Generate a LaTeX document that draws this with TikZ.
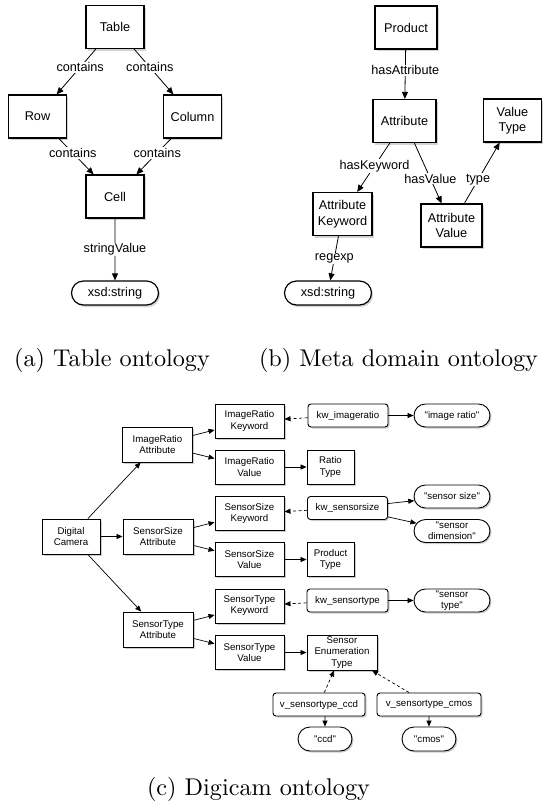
\documentclass[tikz,border=0pt]{standalone}
\usepackage{fontspec}
\newfontfamily\helv{Liberation Sans}
\usetikzlibrary{arrows.meta,shadows,shapes.misc}

\tikzset{
  >={Triangle[length=7pt,width=6pt]},
  big/.style={draw, line width=1.2pt, fill=white, minimum width=58pt, minimum height=43pt,
    inner xsep=3pt, align=center, font=\helv\fontsize{12.7}{15.5}\selectfont,
    drop shadow={opacity=0.35, shadow xshift=1.5pt, shadow yshift=-2pt}},
  bigpill/.style={big, rounded rectangle, minimum width=93pt, minimum height=24pt},
  lbl/.style={fill=white, inner sep=1pt, font=\helv\fontsize{12.7}{15}\selectfont},
  small/.style={draw, line width=0.9pt, fill=white, minimum width=69pt, minimum height=34pt,
    inner xsep=2pt, inner ysep=1pt, align=center, font=\helv\fontsize{9.7}{11.2}\selectfont,
    drop shadow={opacity=0.4, shadow xshift=1.5pt, shadow yshift=-1.5pt}},
  kwbox/.style={small, rounded corners=3pt, minimum width=80pt, minimum height=23pt},
  pill/.style={small, rounded rectangle, minimum width=80pt, minimum height=23pt},
  thin arrow/.style={->, line width=0.7pt, >={Triangle[length=6pt,width=5pt]}},
  dash arrow/.style={thin arrow, dash pattern=on 3pt off 2.5pt}
}

\begin{document}
\begin{tikzpicture}[x=10pt,y=-10pt]
\useasboundingbox (0,0) rectangle (54.2,80.4);

% (a) table ontology
\node[big] (table) at (11.5,2.7) {Table};
\node[big] (row) at (3.75,11.65) {Row};
\node[big] (column) at (19.25,11.65) {Column};
\node[big] (cell) at (11.5,19.65) {Cell};
\node[bigpill] (xsda) at (11.5,29.3) {xsd:string};
\draw[->, line width=0.8pt] (table) -- node[lbl, pos=0.4] {contains} (row);
\draw[->, line width=0.8pt] (table) -- node[lbl, pos=0.4] {contains} (column);
\draw[->, line width=0.8pt] (row) -- node[lbl, pos=0.4] {contains} (cell);
\draw[->, line width=0.8pt] (column) -- node[lbl, pos=0.4] {contains} (cell);
\draw[->, line width=0.8pt] (cell) -- node[lbl] {stringValue} (xsda);

% (b) meta domain ontology
\node[big, minimum width=62pt] (product) at (40.6,2.75) {Product};
\node[big, minimum width=63pt] (attr) at (40.45,12.1) {Attribute};
\node[big] (vtype) at (51.25,12.05) {Value\\Type};
\node[big, minimum width=59pt] (akw) at (34.25,21.4) {Attribute\\Keyword};
\node[big, minimum width=61pt] (aval) at (45.15,22.55) {Attribute\\Value};
\node[bigpill] (xsdb) at (32.8,29.3) {xsd:string};
\draw[->, line width=0.8pt] (product) -- node[lbl, pos=0.42] {hasAttribute} (attr);
\draw[->, line width=0.8pt] (attr) -- node[lbl, pos=0.47] {hasKeyword} (akw);
\draw[->, line width=0.8pt] (attr) -- node[lbl, pos=0.59] {hasValue} (aval);
\draw[->, line width=0.8pt] (aval) -- node[lbl, pos=0.39] {type} (vtype);
\draw[->, line width=0.8pt] (akw) -- node[lbl] {regexp} (xsdb);

\node[anchor=base] (capa) at (11.2,36.6) {\scalebox{2.42}{(a) Table ontology}};
\node[anchor=base] (capb) at (39.85,36.6) {\scalebox{2.42}{(b) Meta domain ontology}};

% (c) digicam ontology
\node[small, minimum width=58pt, minimum height=35pt] (dc) at (7.1,53.65) {Digital\\Camera};
\node[small, minimum width=70pt, minimum height=35pt] (ira) at (15.75,44.45) {ImageRatio\\Attribute};
\node[small, minimum width=70pt, minimum height=35pt] (ssa) at (15.8,53.65) {SensorSize\\Attribute};
\node[small, minimum width=70pt, minimum height=35pt] (sta) at (15.8,62.95) {SensorType\\Attribute};
\node[small] (irk) at (24.95,42.1) {ImageRatio\\Keyword};
\node[small] (irv) at (24.95,46.7) {ImageRatio\\Value};
\node[small] (ssk) at (24.95,51.35) {SensorSize\\Keyword};
\node[small] (ssv) at (24.95,55.95) {SensorSize\\Value};
\node[small] (stk) at (24.95,60.6) {SensorType\\Keyword};
\node[small] (stv) at (24.95,65.25) {SensorType\\Value};
\node[kwbox] (kwir) at (34.8,41.55) {kw\_imageratio};
\node[kwbox] (kwss) at (34.75,50.8) {kw\_sensorsize};
\node[kwbox, minimum width=81pt] (kwst) at (34.75,60.05) {kw\_sensortype};
\node[pill] (lir) at (45.2,41.55) {"image ratio"};
\node[pill] (lss) at (45.2,49.65) {"sensor size"};
\node[pill, inner ysep=0pt] (lsd) at (45.2,53.1) {"sensor\\dimension"};
\node[pill, inner ysep=0pt] (lst) at (45.2,60.05) {"sensor\\type"};
\node[small, minimum width=47pt] (rtype) at (33.05,46.7) {Ratio\\Type};
\node[small, minimum width=47pt] (ptype) at (33.05,55.95) {Product\\Type};
\node[small, minimum width=70pt, minimum height=35pt, inner ysep=0pt] (setype) at (34.2,65.25) {Sensor\\Enumeration\\Type};
\node[kwbox, minimum width=92pt] (vccd) at (31.9,70.45) {v\_sensortype\_ccd};
\node[kwbox, minimum width=104pt] (vcmos) at (42.9,70.45) {v\_sensortype\_cmos};
\node[pill, minimum width=58pt, minimum height=24pt] (lccd) at (32.5,73.9) {"ccd"};
\node[pill, minimum width=58pt, minimum height=24pt] (lcmos) at (42.9,73.9) {"cmos"};

\draw[thin arrow] (dc) -- (ira);
\draw[thin arrow] (dc) -- (ssa);
\draw[thin arrow] (dc) -- (sta);
\draw[thin arrow] (ira) -- (irk);
\draw[thin arrow] (ira) -- (irv);
\draw[thin arrow] (ssa) -- (ssk);
\draw[thin arrow] (ssa) -- (ssv);
\draw[thin arrow] (sta) -- (stk);
\draw[thin arrow] (sta) -- (stv);
\draw[dash arrow] (kwir) -- (irk);
\draw[dash arrow] (kwss) -- (ssk);
\draw[dash arrow] (kwst) -- (stk);
\draw[thin arrow] (kwir) -- (lir);
\draw[thin arrow] (kwss) -- (lss);
\draw[thin arrow] (kwss) -- (lsd);
\draw[thin arrow] (kwst) -- (lst);
\draw[thin arrow] (irv) -- (rtype);
\draw[thin arrow] (ssv) -- (ptype);
\draw[thin arrow] (stv) -- (setype);
\draw[dash arrow] (vccd) -- (setype);
\draw[dash arrow] (vcmos) -- (setype);
\draw[thin arrow] (vccd.south -| lccd.north) -- (lccd);
\draw[thin arrow] (vcmos.south -| lcmos.north) -- (lcmos);

\node[anchor=base] (capc) at (25.85,79.5) {\scalebox{2.42}{(c) Digicam ontology}};
\end{tikzpicture}
\end{document}
